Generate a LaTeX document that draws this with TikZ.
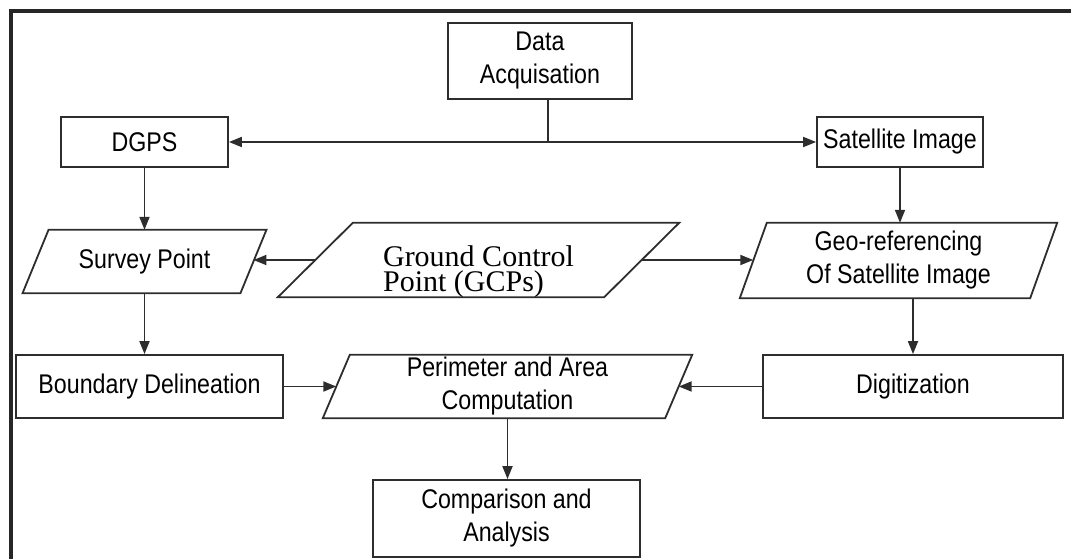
\documentclass[tikz,border=0pt]{standalone}
\usepackage{fontspec}
\setmainfont[FakeStretch=0.86]{Liberation Sans}
\newfontfamily\gcpfont{Liberation Serif}
\usetikzlibrary{arrows.meta}
\definecolor{edgegray}{RGB}{45,45,45}
% slanted outline round a data node: node name, half of the slant
\newcommand\slantframe[2]{%
  \draw[procline] ([xshift=-#2]#1.south west) -- ([xshift=#2]#1.north west)
    -- ([xshift=#2]#1.north east) -- ([xshift=-#2]#1.south east) -- cycle;}

\begin{document}
\begin{tikzpicture}[x=1pt,y=-1pt,
  every node/.style={font=\fontsize{27}{33}\selectfont,align=center,inner sep=0pt},
  procline/.style={draw=edgegray,line width=1.8pt},
  procbox/.style={procline},
  arr/.style={procline,->},
  >={Triangle[length=13pt,width=10pt]}]
  \useasboundingbox (0,0) rectangle (1071,559);
  % outer frame, only left and top show
  \draw[line width=3.5pt,draw=black!85] (11,559) -- (11,11) -- (1071,11);

  \node[procbox,minimum width=184pt,minimum height=76pt] (dacq) at (540,61) {Data\\Acquisation};
  \node[procbox,minimum width=167pt,minimum height=50pt] (dgps) at (144.5,142) {DGPS};
  \node[procbox,minimum width=166pt,minimum height=50pt] (sat) at (900,142) {Satellite Image};

  \node[minimum width=217.5pt,minimum height=63pt] (survey) at (144.5,261.5) {Survey Point};
  \node[minimum width=326pt,minimum height=74pt,align=left,
        font=\gcpfont\fontsize{30}{25}\selectfont,text height=64pt,text depth=2pt] (gcp) at (478.5,260) {Ground Control\\Point (GCPs)};
  \node[minimum width=290pt,minimum height=75pt] (georef) at (898.5,260.5) {Geo-referencing\\Of Satellite Image};
  \slantframe{survey}{13pt}
  \slantframe{gcp}{37.5pt}
  \slantframe{georef}{13.5pt}

  \node[procbox,minimum width=267pt,minimum height=63pt] (bound) at (149.5,386.5) {Boundary Delineation};
  \node[minimum width=342pt,minimum height=63pt] (perim) at (507.5,386.5) {Perimeter and Area\\Computation};
  \slantframe{perim}{13.5pt}
  \node[procbox,minimum width=300pt,minimum height=63pt] (digit) at (913,386.5) {Digitization};
  \node[procbox,minimum width=267pt,minimum height=77pt] (comp) at (506.5,518.5) {Comparison and\\Analysis};

  % connectors
  \coordinate (stem) at ([xshift=8pt]dacq.south);
  \draw[procline] (stem) -- (stem |- dgps.east);
  \draw[procline,<->] (dgps.east) -- (sat.west);
  \draw[arr] (dgps.south) -- (dgps.south |- survey.north);
  \draw[arr] (sat.south) -- (sat.south |- georef.north);
  \draw[arr] (gcp.west) -- (gcp.west -| survey.east);
  \draw[arr] (gcp.east) -- (gcp.east -| georef.west);
  \draw[arr] (survey.south) -- (survey.south |- bound.north);
  \draw[arr] (georef.south -| digit.north) -- (digit.north);
  \draw[arr] (bound.east) -- (perim.west);
  \draw[arr] (digit.west) -- (perim.east);
  \draw[arr] (perim.south) -- (perim.south |- comp.north);
\end{tikzpicture}
\end{document}
